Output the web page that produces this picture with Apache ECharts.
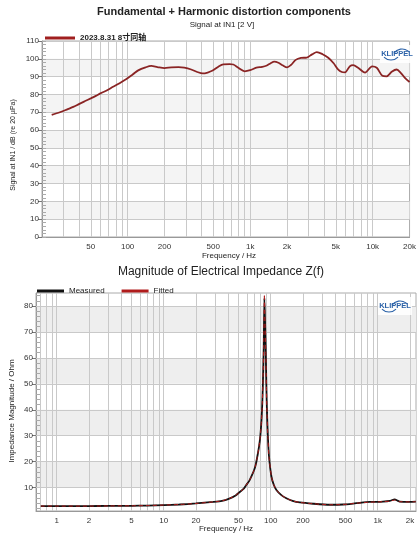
<!DOCTYPE html>
<html><head><meta charset="utf-8">
<script src="https://cdn.jsdelivr.net/npm/echarts@6/dist/echarts.min.js"></script>
<style>html,body{margin:0;padding:0;background:#fff}#c{width:419px;height:534px}</style>
</head><body><div id="c"></div><script>
// ---------- Top chart: Fundamental + Harmonic distortion ----------
const topSeriesName = '2023.8.31 8寸同轴';
const topFreq  = [24, 28, 32.5, 36, 40, 45, 50, 55, 60, 68, 76, 86, 97, 110, 122, 140, 156, 175, 200, 227, 260, 290, 330, 370, 410, 450, 494, 550, 604, 680, 728, 800, 903, 1000, 1124, 1250, 1353, 1470, 1573, 1700, 1839, 2000, 2150, 2355, 2600, 2900, 3200, 3500, 3900, 4340, 4800, 5240, 5600, 5950, 6500, 6940, 7600, 8660, 9900, 10800, 12000, 13000, 14300, 15700, 17000, 18500, 20000];
const topLevel = [68.5, 70, 71.8, 73, 74.6, 76.3, 77.8, 79.2, 80.6, 82.4, 84.3, 86.3, 88.5, 91.2, 93.5, 95.2, 96, 95.4, 94.8, 95.2, 95.3, 95.0, 94, 92.6, 91.8, 92.3, 93.4, 95.6, 96.9, 97, 96.8, 95, 93, 93.6, 95, 95.5, 96.1, 97.5, 98.4, 97.8, 96.4, 95.2, 96.5, 99.4, 100.5, 100.7, 102.5, 103.8, 102.6, 100.6, 97.5, 93.9, 92.6, 92.4, 95.8, 96.5, 95, 92.3, 95.8, 95, 90.5, 90.2, 92.7, 94, 92, 89, 87];
const topXTicks = [50, 100, 200, 500, 1000, 2000, 5000, 10000, 20000];
const topGridFreqs = [30, 40, 50, 60, 70, 80, 90, 100, 200, 300, 400, 500, 600, 700, 800, 900, 1000, 2000, 3000, 4000, 5000, 6000, 7000, 8000, 9000, 10000];
const topBands = [[10, 20], [30, 40], [50, 60], [70, 80], [90, 100]];

// ---------- Bottom chart: Impedance ----------
const impFreq     = [0.71, 1, 2, 3, 5, 7, 10, 14, 20, 29, 35, 41, 47, 51, 56, 59, 63, 66, 70, 72.4, 75, 77.8, 80, 82, 83.5, 84.7, 86, 87.3, 88.5, 89.8, 91, 92.3, 94, 96.4, 101.5, 107, 113, 125, 140, 160, 187, 250, 356, 474, 632, 842, 1000, 1121, 1294, 1442, 1530, 1605, 2000, 2270];
const impMeasured = [2.9, 2.9, 2.9, 2.95, 3.0, 3.1, 3.3, 3.5, 3.9, 4.5, 4.9, 5.8, 7.0, 8.2, 9.6, 11, 12.6, 14.3, 16.8, 18.8, 22, 25.9, 30, 36, 43, 51.7, 64, 83, 74, 63, 50, 38.8, 30, 22, 14.3, 11, 9.1, 7.2, 5.9, 4.9, 4.3, 3.8, 3.4, 3.5, 4.0, 4.5, 4.5, 4.6, 4.9, 5.5, 5.0, 4.6, 4.5, 4.6];
const impFitted   = [2.9, 2.9, 2.9, 2.95, 3.0, 3.1, 3.3, 3.5, 3.9, 4.5, 4.9, 5.8, 7.0, 8.2, 9.6, 11, 12.6, 14.3, 16.8, 18.8, 22, 25.9, 30, 36, 43, 51.7, 64, 84.5, 74, 63, 50, 38.8, 30, 22, 14.3, 11, 9.1, 7.2, 5.9, 4.9, 4.3, 3.8, 3.4, 3.5, 4.0, 4.4, 4.5, 4.6, 4.8, 5.2, 4.9, 4.6, 4.5, 4.6];
const impXTicks = [1, 2, 5, 10, 20, 50, 100, 200, 500, 1000, 2000];
const impYTicks = [10, 20, 30, 40, 50, 60, 70, 80];
const impYMinor = [2,4,6,8,10,12,14,16,18,20,22,24,26,28,30,32,34,36,38,40,42,44,46,48,50,52,54,56,58,60,62,64,66,68,70,72,74,76,78,80,82,84];
const impGridFreqs = [0.7, 0.8, 0.9, 1, 2, 3, 4, 5, 6, 7, 8, 9, 10, 20, 30, 40, 50, 60, 70, 80, 90, 100, 200, 300, 400, 500, 600, 700, 800, 900, 1000, 2000];
const impBands = [[10, 20], [30, 40], [50, 60], [70, 80]];

const FONT = "'Liberation Sans','Noto Sans CJK SC',Arial,sans-serif";
const fmtHz = v => v >= 1000 ? (v / 1000) + 'k' : String(v);
const GRIDC = '#c9c9c9';

const chart = echarts.init(document.getElementById('c'), null, {renderer: 'canvas'});

function gridHelpers(ax, freqs, ys, bands, bandColor) {
  const lines = freqs.map(v => ({xAxis: v}));
  if (ys) ys.forEach(v => lines.push({yAxis: v}));
  return [
    {type: 'line', xAxisIndex: ax, yAxisIndex: ax * 2, data: [], silent: true, z: 0,
     markArea: {silent: true, itemStyle: {color: bandColor},
       data: bands.map(b => [{yAxis: b[0]}, {yAxis: b[1]}])}},
    {type: 'line', xAxisIndex: ax, yAxisIndex: ax * 2, data: [], silent: true, z: 1,
     markLine: {silent: true, symbol: ['none', 'none'], label: {show: false},
       animation: false, lineStyle: {color: GRIDC, width: 1, type: 'solid'}, data: lines}}
  ];
}

function klippel(x, y) {
  return [
    {type: 'rect', z: 20, shape: {x: x - 17, y: y - 9, width: 34, height: 18}, style: {fill: 'rgba(255,255,255,0.85)'}},
    {type: 'text', z: 21, x: x, y: y, style: {text: 'KLIPPEL', font: 'bold 7.5px ' + FONT, fill: '#2b62a8', align: 'center', verticalAlign: 'middle', textAlign: 'center', textVerticalAlign: 'middle'}},
    {type: 'arc', z: 21, shape: {cx: x + 5, cy: y + 5, r: 10, startAngle: -Math.PI * 0.8, endAngle: -Math.PI * 0.25}, style: {stroke: '#2b62a8', fill: null, lineWidth: 1.1}},
    {type: 'arc', z: 21, shape: {cx: x - 6, cy: y - 4, r: 10, startAngle: Math.PI * 0.25, endAngle: Math.PI * 0.75}, style: {stroke: '#2b62a8', fill: null, lineWidth: 1.1}}
  ];
}

function txt(x, y, text, font, rot) {
  return {type: 'text', x: x, y: y, rotation: rot || 0,
    style: {text: text, font: font, fill: '#222', align: 'center', verticalAlign: 'middle', textAlign: 'center', textVerticalAlign: 'middle'}};
}

const axLabel = {fontSize: 8, color: '#333', fontFamily: FONT};

const option = {
  animation: false,
  textStyle: {fontFamily: FONT},
  grid: [
    {left: 42, top: 41, width: 374, height: 196, show: true, borderColor: '#aaa', borderWidth: 1, backgroundColor: '#fff'},
    {left: 36, top: 293, width: 380, height: 218, show: true, borderColor: '#aaa', borderWidth: 1, backgroundColor: '#fff'}
  ],
  legend: [
    {data: [{name: topSeriesName, icon: 'rect'}], left: 40, top: 29, itemWidth: 30, itemHeight: 3,
     textStyle: {fontSize: 8, fontWeight: 'bold', color: '#222', fontFamily: FONT}},
    {data: [{name: 'Measured', icon: 'rect'}, {name: 'Fitted', icon: 'rect'}], left: 32, top: 282,
     itemWidth: 27, itemHeight: 3, itemGap: 17, textStyle: {fontSize: 8, color: '#222', fontFamily: FONT}}
  ],
  xAxis: [
    {type: 'log', gridIndex: 0, min: 20, max: 20000, logBase: 10, z: 4,
     axisLine: {lineStyle: {color: '#999'}}, axisTick: {show: false}, splitLine: {show: false},
     axisLabel: Object.assign({customValues: topXTicks, formatter: fmtHz, margin: 6}, axLabel)},
    {type: 'log', gridIndex: 1, min: 0.64, max: 2280, logBase: 10, z: 4,
     axisLine: {lineStyle: {color: '#999'}}, axisTick: {show: false}, splitLine: {show: false},
     axisLabel: Object.assign({customValues: impXTicks, formatter: fmtHz, margin: 6}, axLabel)}
  ],
  yAxis: [
    {type: 'value', gridIndex: 0, min: 0, max: 110, interval: 10, z: 4,
     axisLine: {show: true, lineStyle: {color: '#999'}}, axisTick: {show: true, length: 4, lineStyle: {color: '#777'}},
     splitLine: {show: true, lineStyle: {color: GRIDC}},
     axisLabel: Object.assign({margin: 3}, axLabel)},
    {type: 'value', gridIndex: 0, min: 0, max: 110, interval: 2, position: 'left', z: 4,
     axisLine: {show: false}, axisTick: {show: true, inside: true, length: 4, lineStyle: {color: '#aaa'}},
     splitLine: {show: false}, axisLabel: {show: false}},
    {type: 'value', gridIndex: 1, min: 1, max: 85, z: 4,
     axisLine: {show: true, lineStyle: {color: '#999'}},
     axisTick: {show: true, length: 4, customValues: impYTicks, lineStyle: {color: '#777'}},
     splitLine: {show: false},
     axisLabel: Object.assign({margin: 3, customValues: impYTicks}, axLabel)},
    {type: 'value', gridIndex: 1, min: 1, max: 85, position: 'left', z: 4,
     axisLine: {show: false}, axisTick: {show: true, inside: true, length: 4, customValues: impYMinor, lineStyle: {color: '#aaa'}},
     splitLine: {show: false}, axisLabel: {show: false}}
  ],
  series: [
    ...gridHelpers(0, topGridFreqs, null, topBands, '#f4f4f4'),
    ...gridHelpers(1, impGridFreqs, impYTicks, impBands, '#eeeeee'),
    {name: topSeriesName, type: 'line', xAxisIndex: 0, yAxisIndex: 0, z: 5, color: '#a01f1f',
     data: topFreq.map((f, i) => [f, topLevel[i]]), showSymbol: false, smooth: 0.3,
     lineStyle: {color: '#8a2424', width: 1.8}},
    {name: 'Measured', type: 'line', xAxisIndex: 1, yAxisIndex: 2, z: 5, color: '#111',
     data: impFreq.map((f, i) => [f, impMeasured[i]]), showSymbol: false, smooth: 0.2,
     lineStyle: {color: '#111', width: 1.8}},
    {name: 'Fitted', type: 'line', xAxisIndex: 1, yAxisIndex: 2, z: 6, color: '#b01c1c',
     data: impFreq.map((f, i) => [f, impFitted[i]]), showSymbol: false, smooth: 0.2,
     lineStyle: {color: '#b01c1c', width: 1, type: [4, 3]}}
  ],
  graphic: [
    txt(224, 12, 'Fundamental + Harmonic distortion components', 'bold 11px ' + FONT),
    txt(222, 25, 'Signal at IN1 [2 V]', '8px ' + FONT),
    txt(229, 256, 'Frequency / Hz', '8px ' + FONT),
    txt(13, 145, 'Signal at IN1 / dB (re 20 µPa)', '7px ' + FONT, Math.PI / 2),
    txt(221, 272, 'Magnitude of Electrical Impedance Z(f)', '12px ' + FONT),
    txt(226, 529, 'Frequency / Hz', '8px ' + FONT),
    txt(12, 411, 'Impedance Magnitude / Ohm', '8px ' + FONT, Math.PI / 2),
    ...klippel(397, 54),
    ...klippel(395, 306)
  ]
};
chart.setOption(option);
</script></body></html>
